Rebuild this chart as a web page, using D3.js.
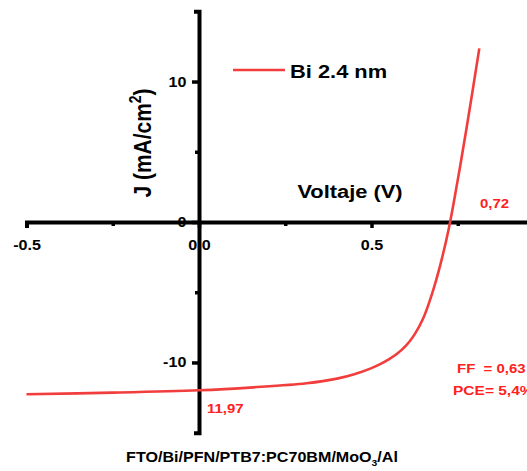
<!DOCTYPE html>
<html>
<head>
<meta charset="utf-8">
<script src="https://cdn.jsdelivr.net/npm/d3@7"></script>
<style>
  body { margin: 0; background: #fff; }
  svg { display: block; font-family: "Liberation Sans", Arial, sans-serif; font-weight: bold; }
  text { white-space: pre; }
</style>
</head>
<body>
<svg id="chart" width="527" height="471"></svg>
<script>
// J-V curve
const voltage = [-0.5, -0.25, 0, 0.157, 0.312, 0.4, 0.45, 0.5, 0.525, 0.55, 0.575, 0.6, 0.625, 0.65, 0.675, 0.7, 0.725, 0.75, 0.775, 0.8125];
const current = [-12.26, -12.15, -11.98, -11.77, -11.48, -11.15, -10.84, -10.4, -10.12, -9.78, -9.36, -8.8, -8.0, -6.85, -5.15, -3.0, -0.35, 3.0, 6.6, 12.36];
const xTicks = [-0.5, 0, 0.5];
const xTickLabels = ['-0.5', '0.0', '0.5'];
const xMinor = [-0.25, 0.25, 0.75];
const yTicks = [-10, 0, 10];
const yTickLabels = ['-10', '0', '10'];
const yMinor = [-5, 5];
const seriesName = 'Bi 2.4 nm';

const data = voltage.map((v, i) => ({v: v, j: current[i]}));
const red = '#f23d3d';
const sx = 1.15; // picture is a bit stretched sideways

const svg = d3.select('#chart');

const x = d3.scaleLinear().domain([-0.5, 1.0]).range([26.5, 26.5 + 1.5 * 345]);
const y = d3.scaleLinear().domain([-15, 15]).range([432.7, 11.3]);

// x axis through J = 0
const xAxis = svg.append('g')
    .attr('transform', `translate(0,${y(0)})`)
    .call(d3.axisBottom(x).tickValues(xTicks)
        .tickFormat((d, i) => xTickLabels[i])
        .tickSize(6).tickSizeOuter(6).tickPadding(12));
svg.append('g')
    .attr('transform', `translate(0,${y(0)})`)
    .call(d3.axisBottom(x).tickValues(xMinor).tickFormat('').tickSize(4))
    .select('.domain').remove();

// y axis through V = 0
const yAxis = svg.append('g')
    .attr('transform', `translate(${x(0)},0)`)
    .call(d3.axisLeft(y).tickValues(yTicks)
        .tickFormat((d, i) => yTickLabels[i])
        .tickSize(7).tickSizeOuter(5).tickPadding(4));
svg.append('g')
    .attr('transform', `translate(${x(0)},0)`)
    .call(d3.axisLeft(y).tickValues(yMinor).tickFormat('').tickSize(4))
    .select('.domain').remove();

svg.selectAll('.domain').attr('stroke', '#000').attr('stroke-width', 4);
svg.selectAll('.tick line').attr('stroke', '#000').attr('stroke-width', 3.5);
svg.selectAll('.tick text')
    .attr('fill', '#000')
    .attr('font-size', 14)
    .attr('font-weight', 'bold')
    .attr('font-family', '"Liberation Sans", Arial, sans-serif')
    .attr('transform', `scale(${sx},1)`);
yAxis.raise();

// the curve
const line = d3.line()
    .x(d => x(d.v))
    .y(d => y(d.j))
    .curve(d3.curveCatmullRom.alpha(0.5));

svg.append('path')
    .datum(data)
    .attr('d', line)
    .attr('fill', 'none')
    .attr('stroke', red)
    .attr('stroke-width', 2.6);

function label(px, py, str, size, color, anchor) {
    return svg.append('text')
        .attr('transform', `translate(${px},${py}) scale(${sx},1)`)
        .attr('font-size', size)
        .attr('fill', color)
        .attr('text-anchor', anchor || 'start')
        .text(str);
}

// legend
svg.append('line')
    .attr('x1', 233).attr('x2', 285)
    .attr('y1', 70).attr('y2', 70)
    .attr('stroke', red).attr('stroke-width', 2.6);
label(290, 78, seriesName, 19, '#000');

// axis titles
label(350, 198, 'Voltaje (V)', 19, '#000', 'middle');
const yt = svg.append('text')
    .attr('transform', `translate(151,143) rotate(-90) scale(1,${sx})`)
    .attr('font-size', 21)
    .attr('text-anchor', 'middle');
yt.append('tspan').text('J (mA/cm');
yt.append('tspan').attr('font-size', 14).attr('dy', -9).text('2');
yt.append('tspan').attr('dy', 9).text(')');

// annotations
label(480, 208, '0,72', 13, '#ff2020');
label(207, 413, '11,97', 13, '#ff2020');
label(457, 373, 'FF  = 0,63', 13, '#ff2020');
label(453, 395, 'PCE= 5,4%', 13.5, '#ff2020');

// device stack
const st = svg.append('text')
    .attr('transform', `translate(262,462) scale(${sx},1)`)
    .attr('font-size', 14)
    .attr('text-anchor', 'middle');
st.append('tspan').text('FTO/Bi/PFN/PTB7:PC70BM/MoO');
st.append('tspan').attr('font-size', 9).attr('dy', 4).text('3');
st.append('tspan').attr('dy', -4).text('/Al');
</script>
</body>
</html>
